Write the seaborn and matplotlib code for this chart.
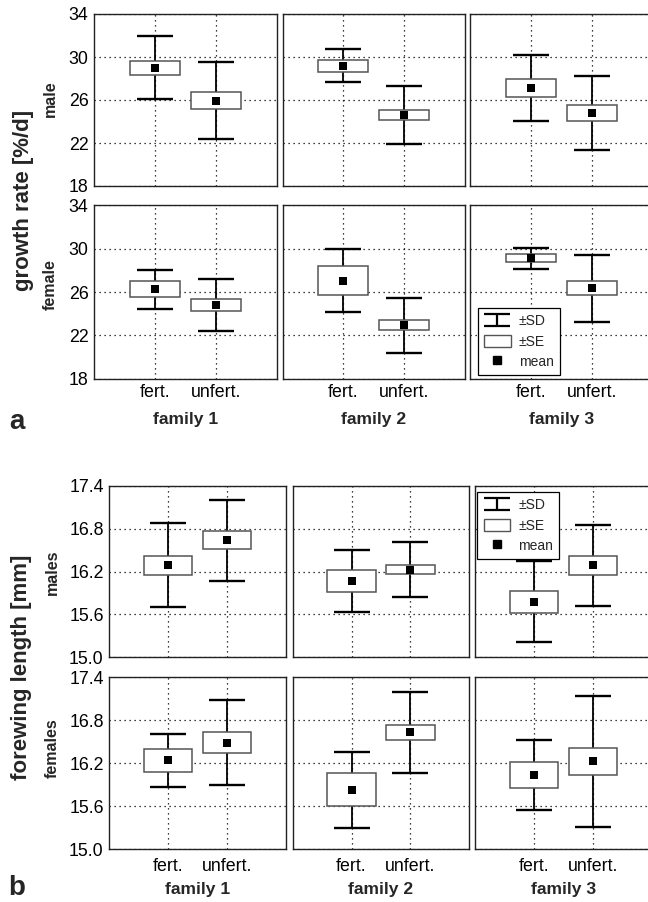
import numpy as np
import pandas as pd
import matplotlib
matplotlib.use("Agg")
import matplotlib.pyplot as plt
from matplotlib.path import Path
from matplotlib.lines import Line2D
from matplotlib.patches import Patch
import seaborn as sns

# ---------------- data ----------------
families = ["family 1", "family 2", "family 3"]
treatments = ["fert.", "unfert."]

# order: fam1 fert, fam1 unfert, fam2 fert, fam2 unfert, fam3 fert, fam3 unfert
growth_male_mean = [29.0, 25.95, 29.2, 24.6, 27.1, 24.8]
growth_male_se = [0.65, 0.76, 0.55, 0.43, 0.83, 0.77]
growth_male_sd = [2.93, 3.56, 1.56, 2.70, 3.06, 3.44]

growth_female_mean = [26.25, 24.8, 27.06, 22.95, 29.1, 26.35]
growth_female_se = [0.75, 0.58, 1.31, 0.49, 0.37, 0.66]
growth_female_sd = [1.78, 2.40, 2.91, 2.54, 0.94, 3.08]

wing_male_mean = [16.29, 16.64, 16.07, 16.23, 15.78, 16.29]
wing_male_se = [0.13, 0.125, 0.155, 0.06, 0.155, 0.13]
wing_male_sd = [0.59, 0.565, 0.435, 0.39, 0.57, 0.565]

wing_female_mean = [16.24, 16.49, 15.83, 16.63, 16.04, 16.23]
wing_female_se = [0.155, 0.14, 0.23, 0.105, 0.18, 0.19]
wing_female_sd = [0.37, 0.595, 0.53, 0.565, 0.485, 0.915]

growth_ticks = [18, 22, 26, 30, 34]
growth_ticklabels = ["18", "22", "26", "30", "34"]
wing_ticks = [15.0, 15.6, 16.2, 16.8, 17.4]
wing_ticklabels = ["15.0", "15.6", "16.2", "16.8", "17.4"]


def make_df(mean, se, sd):
    fam = [f for f in families for _ in treatments]
    trt = [t for _ in families for t in treatments]
    return pd.DataFrame({"family": fam, "treatment": trt,
                         "mean": mean, "se": se, "sd": sd})


df_gm = make_df(growth_male_mean, growth_male_se, growth_male_sd)
df_gf = make_df(growth_female_mean, growth_female_se, growth_female_sd)
df_wm = make_df(wing_male_mean, wing_male_se, wing_male_sd)
df_wf = make_df(wing_female_mean, wing_female_se, wing_female_sd)

# ---------------- style ----------------
sns.set_style("white")
plt.rcParams["font.family"] = ["Liberation Sans", "DejaVu Sans"]

W, H = 648, 902
fig = plt.figure(figsize=(W / 100, H / 100), dpi=100)


def rect(left, top, right, bottom):
    return [left / W, 1 - bottom / H, (right - left) / W, (bottom - top) / H]


def draw_panel(ax, sub, ticks, ticklabels, show_y, show_x, xpad):
    pos = np.arange(len(treatments))
    sub = sub.set_index("treatment").loc[treatments].reset_index()
    ax.errorbar(pos, sub["mean"], yerr=sub["sd"], fmt="none", ecolor="black",
                elinewidth=1.3, capsize=13.2, capthick=1.7, zorder=2)
    ax.bar(pos, 2 * sub["se"], bottom=sub["mean"] - sub["se"], width=0.82,
           facecolor="white", edgecolor="#555555", linewidth=1.1, zorder=3)
    sns.stripplot(data=sub, x="treatment", y="mean", order=treatments,
                  jitter=False, marker="s", size=5.6, color="black",
                  linewidth=0, zorder=4, ax=ax)
    ax.set_xlim(-1, 2)
    ax.set_ylim(ticks[0], ticks[-1])
    ax.set_yticks(ticks)
    ax.set_xticks(pos)
    ax.set_xlabel("")
    ax.set_ylabel("")
    ax.set_axisbelow(True)
    ax.grid(True, linestyle=(0, (1, 3)), color="black", linewidth=0.9)
    if show_y:
        ax.set_yticklabels(ticklabels)
    else:
        ax.set_yticklabels([])
    if show_x:
        ax.set_xticklabels(treatments)
    else:
        ax.set_xticklabels([])
    ax.tick_params(axis="both", length=0, labelsize=12.8, colors="black")
    ax.tick_params(axis="y", pad=4)
    ax.tick_params(axis="x", pad=xpad)
    for s in ax.spines.values():
        s.set_visible(True)
        s.set_color("#222222")
        s.set_linewidth(1.0)


# ---------------- layout (pixel boxes) ----------------
a_rows = [(14, 186), (205.3, 378.7)]
a_cols = [(94, 277), (282.6, 465), (470.3, 653.3)]
b_rows = [(486, 657.3), (677.3, 849.3)]
b_cols = [(109.3, 286), (292.6, 469.3), (474.7, 651.7)]

axes_a = [[None] * 3 for _ in range(2)]
axes_b = [[None] * 3 for _ in range(2)]

for r, df in enumerate([df_gm, df_gf]):
    for c, fam in enumerate(families):
        ax = fig.add_axes(rect(a_cols[c][0], a_rows[r][0], a_cols[c][1], a_rows[r][1]))
        draw_panel(ax, df[df["family"] == fam], growth_ticks, growth_ticklabels,
                   c == 0, r == 1, 3.5)
        axes_a[r][c] = ax

for r, df in enumerate([df_wm, df_wf]):
    for c, fam in enumerate(families):
        ax = fig.add_axes(rect(b_cols[c][0], b_rows[r][0], b_cols[c][1], b_rows[r][1]))
        draw_panel(ax, df[df["family"] == fam], wing_ticks, wing_ticklabels,
                   c == 0, r == 1, 6)
        axes_b[r][c] = ax

# ---------------- legends ----------------
ibeam = Path([(-1, 0.42), (1, 0.42), (0, 0.42), (0, -0.42), (-1, -0.42), (1, -0.42)],
             [Path.MOVETO, Path.LINETO, Path.MOVETO, Path.LINETO,
              Path.MOVETO, Path.LINETO])
handles = [
    Line2D([], [], marker=ibeam, markersize=19, color="black", linestyle="none",
           markeredgewidth=1.6, markerfacecolor="none"),
    Patch(facecolor="white", edgecolor="#555555", linewidth=1.0),
    Line2D([], [], marker="s", markersize=5.6, color="black", linestyle="none"),
]
labels = ["\u00b1SD", "\u00b1SE", "mean"]


def add_legend(ax, left, top):
    leg = ax.legend(handles, labels, loc="upper left",
                    bbox_to_anchor=(left / W, 1 - top / H),
                    bbox_transform=fig.transFigure, borderaxespad=0,
                    fontsize=10, frameon=True, fancybox=False,
                    handlelength=1.9, handleheight=1.0, handletextpad=0.6,
                    labelspacing=0.45, borderpad=0.45)
    leg.get_frame().set_edgecolor("black")
    leg.get_frame().set_linewidth(0.9)
    leg.get_frame().set_alpha(1)
    leg.set_zorder(10)


add_legend(axes_a[1][2], 478, 308)
add_legend(axes_b[0][2], 477.3, 492)

# ---------------- text ----------------
for c, fam in enumerate(families):
    fig.text((a_cols[c][0] + a_cols[c][1]) / 2 / W, 1 - 419.3 / H, fam,
             ha="center", va="center", fontsize=12.6, fontweight="bold")
    fig.text((b_cols[c][0] + b_cols[c][1]) / 2 / W, 1 - 889.3 / H, fam,
             ha="center", va="center", fontsize=12.6, fontweight="bold")

fig.text(24 / W, 1 - 200 / H, "growth rate [%/d]", rotation=90, ha="center",
         va="center", fontsize=16, fontweight="bold")
fig.text(50 / W, 1 - 99 / H, "male", rotation=90, ha="center", va="center",
         fontsize=11.5, fontweight="bold")
fig.text(50 / W, 1 - 285 / H, "female", rotation=90, ha="center", va="center",
         fontsize=11.5, fontweight="bold")

fig.text(22 / W, 1 - 667 / H, "forewing length [mm]", rotation=90, ha="center",
         va="center", fontsize=16, fontweight="bold")
fig.text(52 / W, 1 - 572 / H, "males", rotation=90, ha="center", va="center",
         fontsize=11.5, fontweight="bold")
fig.text(52 / W, 1 - 748 / H, "females", rotation=90, ha="center", va="center",
         fontsize=11.5, fontweight="bold")

fig.text(9 / W, 1 - 428.5 / H, "a", ha="left", va="baseline", fontsize=20,
         fontweight="bold")
fig.text(8 / W, 1 - 895 / H, "b", ha="left", va="baseline", fontsize=20,
         fontweight="bold")

fig.savefig("out.png", dpi=100)
